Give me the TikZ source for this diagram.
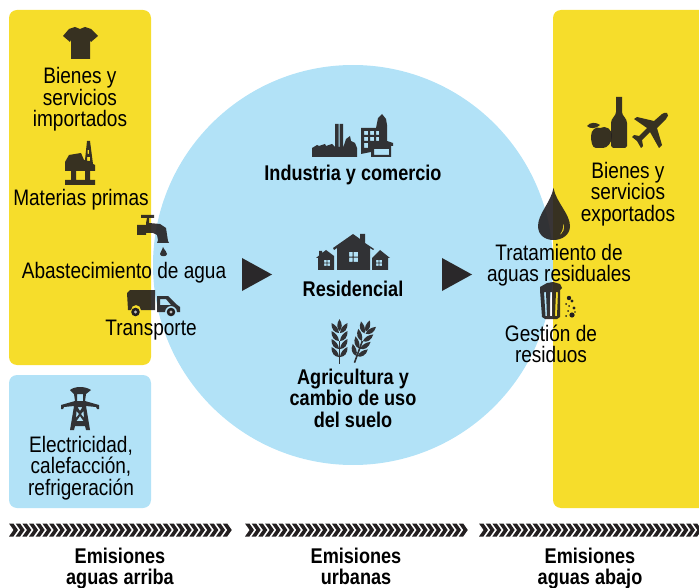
\documentclass[tikz,border=0pt]{standalone}
\usepackage{fontspec}
\setmainfont{Liberation Sans}[FakeStretch=0.85]
\definecolor{yel}{HTML}{F6DD2B}
\definecolor{sky}{HTML}{B2E2F7}
\definecolor{ink}{HTML}{231F20}
\tikzset{
 lab/.style={align=center,inner sep=0pt,text=black,font=\fontsize{22.4}{21.5}\selectfont},
 blab/.style={lab,font=\fontsize{21.3}{21.5}\selectfont\bfseries},
 ico/.style={fill=ink,draw=none,fill opacity=.9,even odd rule},
 grain/.pic={
  \fill[ink,fill opacity=.9] (-.8,-1) rectangle (.8,22);
  \fill[ink,fill opacity=.9] (0,-23) .. controls (3,-18) and (3,-14) .. (0,-11) .. controls (-3,-14) and (-3,-18) .. (0,-23);
  \foreach \dy in {-14,-6,2,10}{
   \fill[ink,fill opacity=.9] (0.5,\dy+5) .. controls (1,\dy) and (4,\dy-3) .. (8,\dy-5) .. controls (8.5,\dy+1) and (5,\dy+5) .. (0.5,\dy+5);
   \fill[ink,fill opacity=.9] (-0.5,\dy+5) .. controls (-1,\dy) and (-4,\dy-3) .. (-8,\dy-5) .. controls (-8.5,\dy+1) and (-5,\dy+5) .. (-0.5,\dy+5);
  }
 }
}
\begin{document}
\begin{tikzpicture}[x=1pt,y=-1pt]
\useasboundingbox (0,0) rectangle (699,588);
\clip (0,0) rectangle (699,588);
% panels
\fill[yel,rounded corners=8pt] (9,10) rectangle (151,365);
\fill[sky,rounded corners=8pt] (9,375) rectangle (151,508);
\fill[sky] (353,265) circle[radius=200];
\fill[yel,rounded corners=8pt] (553,10) rectangle (720,508);
% triangles
\fill[ink,fill opacity=.95] (242,258) -- (272,274.5) -- (242,291) -- cycle;
\fill[ink,fill opacity=.95] (442,258) -- (472,274.5) -- (442,291) -- cycle;
% chevrons
\foreach \sx in {9,245,479}{
 \foreach \i in {0,...,32}{
  \fill[ink] ({\sx+\i*6.68},523.5) -- ++(4.4,0) -- ++(4.6,6.5) -- ++(-4.6,6.5) -- ++(-4.4,0) -- ++(4.6,-6.5) -- cycle;
 }
}
% T-shirt
\path[ico] (75,27) -- (80,29) -- (85,27) -- (91,29) -- (98,36) -- (91,42) -- (90,40) -- (90,59) -- (71,59) -- (71,40) -- (70,42) -- (63,36) -- (69,29) -- cycle;
% Oil rig
\path[ico] (87,141) -- (90,141) -- (93,164) -- (95,165) -- (95,171) -- (90,171) -- (90,180) -- (95,180) -- (95,185) -- (65,185) -- (65,180) -- (71,180) -- (71,171) -- (65,171) -- (65,162) -- (69,155) -- (81,153) -- (84,160) -- (85,160) -- cycle
 (76,171) -- (85,171) -- (85,180) -- (76,180) -- cycle
 (87.5,150) -- (89,150) -- (89,154) -- (87.5,154) -- cycle
 (87,157) -- (90,157) -- (90,161) -- (87,161) -- cycle;
% Tap
\path[ico] (141,215) -- (154,215) -- (154,218) -- (149,218) -- (149,223) -- (160,224) -- (166,228) -- (168,241) -- (169,243) -- (157,243) -- (158,240) -- (157,235) -- (153,233) -- (146,233) -- (146,235) -- (137,235) -- (137,225) -- (146,225) -- (146,223) -- (147,218) -- (141,218) -- cycle;
\path[ico] (163,247) .. controls (165,251) and (167,252) .. (167,254) .. controls (167,257) and (160,257) .. (160,254) .. controls (160,252) and (162,251) .. (163,247) -- cycle;
% Truck
\path[ico] (130,290) -- (155,290) -- (155,310) -- (141,310) arc[start angle=0,end angle=-180,radius=5] -- (128,310) -- (127,293) -- cycle;
\path[ico] (157,296) -- (168,296) -- (176,304) -- (180,307) -- (180,312) -- (177,312) arc[start angle=0,end angle=-180,radius=6] -- (157,312) -- cycle
 (160,299) -- (166,299) -- (171,305) -- (160,305) -- cycle;
\foreach \cx/\cy in {135.5/312,171/312}{
 \fill[ink] (\cx,\cy) circle[radius=4.3];
 \fill[white,fill opacity=.7] (\cx,\cy) circle[radius=1.7];
}
% Factory
\path[ico] (312,157) -- (312,148) -- (317,145) -- (319,146) -- (325,144) -- (326,146) -- (332,144) -- (335,147) -- (335,124) -- (338.5,124) -- (338.5,147) -- (339.5,147) -- (339.5,124) -- (343,124) -- (343,148) -- (346,139) -- (350,136) -- (351,141) -- (355,143) -- (357,148) -- (357,157) -- cycle;
\path[ico] (361,128) -- (376,128) -- (378,118) -- (382,114) -- (386,119) -- (387,125) -- (387,141) -- (393,143) -- (393,146) -- (391,146) -- (391,157) -- (371,157) -- (371,152) -- (361,154) -- cycle
 (364,131) -- (368,131) -- (368,135) -- (364,135) -- cycle
 (370,131) -- (374,131) -- (374,135) -- (370,135) -- cycle
 (376,131) -- (379,131) -- (379,135) -- (376,135) -- cycle
 (364,137) -- (368,137) -- (368,141) -- (364,141) -- cycle
 (370,137) -- (374,137) -- (374,141) -- (370,141) -- cycle
 (376,137) -- (379,137) -- (379,141) -- (376,141) -- cycle
 (364,143) -- (368,143) -- (368,148) -- (364,148) -- cycle
 (374,149) -- (389,149) -- (389,155) -- (374,155) -- cycle;
% Houses
\path[ico] (333,248) -- (353,234) -- (360,239) -- (360,234) -- (365,234) -- (365,243) -- (374,249) -- (373,250) -- (370,248) -- (370,270) -- (337,270) -- (337,248) -- (334,250) -- cycle
 (349,252) -- (352.6,252) -- (352.6,256.6) -- (349,256.6) -- cycle
 (353.6,252) -- (358,252) -- (358,256.6) -- (353.6,256.6) -- cycle
 (349,257.6) -- (352.6,257.6) -- (352.6,262) -- (349,262) -- cycle
 (353.6,257.6) -- (358,257.6) -- (358,262) -- (353.6,262) -- cycle;
\path[ico] (316,258) -- (319,255.5) -- (319,251) -- (322,251) -- (322,253) -- (326,250) -- (334,256) -- (334,270) -- (318,270) -- (318,258) -- cycle
 (324,260) -- (326.6,260) -- (326.6,262.6) -- (324,262.6) -- cycle
 (327.4,260) -- (330,260) -- (330,262.6) -- (327.4,262.6) -- cycle
 (324,263.4) -- (326.6,263.4) -- (326.6,266) -- (324,266) -- cycle
 (327.4,263.4) -- (330,263.4) -- (330,266) -- (327.4,266) -- cycle;
\path[ico] (372,258) -- (380,250) -- (390,258) -- (388,258) -- (388,270) -- (372,270) -- cycle
 (376,260) -- (378.6,260) -- (378.6,262.6) -- (376,262.6) -- cycle
 (379.4,260) -- (382,260) -- (382,262.6) -- (379.4,262.6) -- cycle
 (376,263.4) -- (378.6,263.4) -- (378.6,266) -- (376,266) -- cycle
 (379.4,263.4) -- (382,263.4) -- (382,266) -- (379.4,266) -- cycle;
% Wheat
\pic at (339.5,342) {grain};
\pic[rotate=-20] at (362,342) {grain};
% Apple
\path[ico] (600,128) .. controls (606,125) and (612,129) .. (612,136) .. controls (612,143) and (607,148) .. (603,148) -- (596,148) .. controls (592,148) and (591,141) .. (591,136) .. controls (591,130) and (596,126) .. (600,128) -- cycle;
\path[ico] (587,126) .. controls (590,122) and (596,122) .. (600,125) .. controls (596,129) and (590,129) .. (587,126) -- cycle;
% Bottle
\path[ico] (616,97) -- (622,97) -- (622,112) .. controls (622,116) and (627,118) .. (627,123) -- (627,146) -- (625,148) -- (613,148) -- (611,146) -- (611,123) .. controls (611,118) and (616,116) .. (616,112) -- cycle;
% Plane
\path[ico] (667,113) .. controls (669,114) and (668,117) .. (666,119) -- (657,128) -- (662,145) -- (659,148) -- (650,132) -- (642,140) -- (643,146) -- (641,148) -- (637,141) -- (632,137) -- (634,135) -- (639,136) -- (647,128) -- (634,119) -- (637,117) -- (654,121) -- (662,114) .. controls (664,113) and (666,112) .. (667,113) -- cycle;
% Drop
\path[ico] (553.5,188) .. controls (556,202) and (570,214) .. (570,226) .. controls (570,235) and (562,240) .. (553.5,240) .. controls (545,240) and (538,235) .. (538,226) .. controls (538,214) and (551,202) .. (553.5,188) -- cycle
 (563,222) .. controls (566,228) and (563,234) .. (558,236) .. controls (562,233) and (564,228) .. (563,222) -- cycle;
% Bin
\path[ico] (547,283) -- (553,282) -- (560,284) -- (562,288) -- (560,290) -- (560,317) -- (557,319) -- (545,319) -- (542,317) -- (540,290) -- (540,287) -- cycle
 (544,292) -- (546,292) -- (547,316) -- (545.5,316) -- cycle
 (550,292) -- (552,292) -- (552,316) -- (550,316) -- cycle
 (556,292) -- (558,292) -- (557,316) -- (555,316) -- cycle;
\foreach \px/\py/\pr in {569/298/2.2,572/301/1.6,566/304/1,569/306/1,574/308/1.6,568/311/1,572/315/2.6,566/316/1,575/312/.8}{
 \fill[ink] (\px,\py) circle[radius=\pr];
}
% Pylon
\path[ico] (70,390) .. controls (75,386) and (85,386) .. (91,390) -- (86,394) -- (85,401) -- (99,405) -- (99,409) -- (97,409) -- (96,407) -- (86,406) -- (90,430) -- (86,430) -- (85,426) -- (75,426) -- (74,430) -- (70,430) -- (74,406) -- (64,407) -- (63,409) -- (61,409) -- (61,405) -- (75,401) -- (74,394) -- cycle
 (77,394) -- (83,394) -- (83,401) -- (77,401) -- cycle
 (77.5,407) -- (82.5,407) -- (80,411) -- cycle
 (76.5,411) -- (79,414) -- (76,418) -- cycle
 (83.5,411) -- (84,418) -- (81,414) -- cycle
 (80,416) -- (83.5,421) -- (76.5,421) -- cycle;
% labels
\node[lab] (bimp) at (80,99.5) {Bienes y\\servicios\\importados};
\node[lab] (mat) at (81,200) {Materias primas};
\node[lab] (aba) at (124,273) {Abastecimiento de agua};
\node[lab] (tra) at (151,330) {Transporte};
\node[blab] (ind) at (353,175) {Industria y comercio};
\node[blab] (res) at (353,288.5) {Residencial};
\node[blab] (agr) at (353,398) {Agricultura y\\cambio de uso\\del suelo};
\node[lab] (bexp) at (628,194) {Bienes y\\servicios\\exportados};
\node[lab] (tar) at (559,265) {Tratamiento de\\aguas residuales};
\node[lab] (ges) at (551,344) {Gestión de\\residuos};
\node[lab] (ele) at (81,468) {Electricidad,\\calefacción,\\refrigeración};
\node[blab] (e1) at (120,568.5) {Emisiones\\aguas arriba};
\node[blab] (e2) at (356,566.5) {Emisiones\\urbanas};
\node[blab] (e3) at (590,568.5) {Emisiones\\aguas abajo};
\end{tikzpicture}
\end{document}
